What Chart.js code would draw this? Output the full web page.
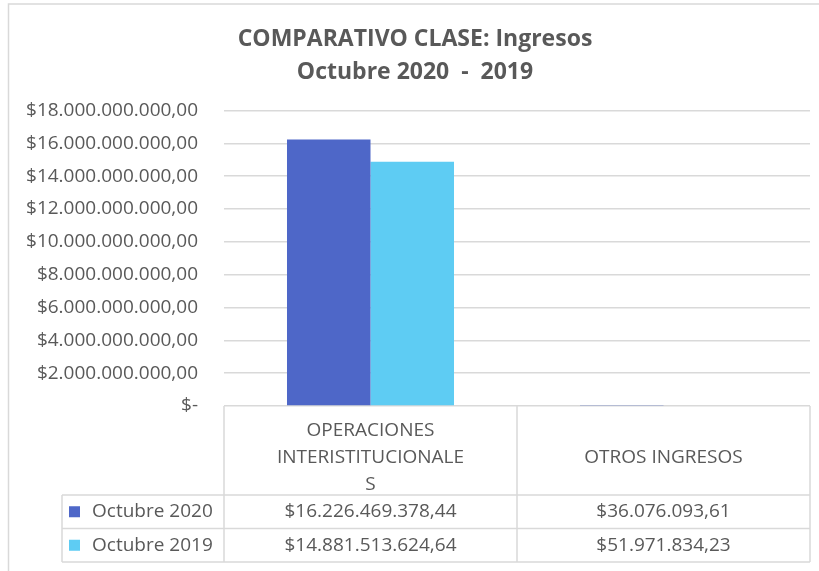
<!DOCTYPE html>
<html>
<head>
<meta charset="utf-8">
<script src="https://cdn.jsdelivr.net/npm/chart.js@4.4.0/dist/chart.umd.min.js"></script>
<style>
  body { margin: 0; background: #fff; }
</style>
</head>
<body>
<canvas id="chart" width="819" height="571"></canvas>
<script>
const titleLines = ['COMPARATIVO CLASE: Ingresos', 'Octubre 2020  -  2019'];
const categories = [['OPERACIONES', 'INTERISTITUCIONALE', 'S'], ['', 'OTROS INGRESOS', '']];
const seriesNames = ['Octubre 2020', 'Octubre 2019'];
const octubre2020 = [16226469378.44, 36076093.61];
const octubre2019 = [14881513624.64, 51971834.23];
const yMax = 18000000000;
const yStep = 2000000000;

const colors = ['#4E67C8', '#5ECCF3'];
const FONT = "'Open Sans', sans-serif";
const TEXT = '#595959';
const LINE = '#d9d9d9';

function money(v) {
  if (v === 0) return '$-';
  const parts = v.toFixed(2).split('.');
  return '$' + parts[0].replace(/\B(?=(\d{3})+(?!\d))/g, '.') + ',' + parts[1];
}

// draws the frame and the data table under the x axis
const dataTable = {
  id: 'dataTable',
  beforeDraw(chart) {
    const ctx = chart.ctx;
    ctx.save();
    ctx.fillStyle = '#fff';
    ctx.fillRect(0, 0, chart.width, chart.height);
    ctx.strokeStyle = LINE;
    ctx.lineWidth = 1.5;
    ctx.strokeRect(8.5, 4, chart.width + 20, chart.height + 20);
    ctx.restore();
  },
  afterDraw(chart) {
    const ctx = chart.ctx;
    const x = chart.scales.x;
    const top = chart.chartArea.bottom;
    const headBottom = x.bottom;
    const rowH = 33.5;
    const tableLeft = 62;
    const bottom = headBottom + rowH * seriesNames.length;
    const cols = [x.left];
    for (let i = 1; i < categories.length; i++) {
      cols.push((x.getPixelForValue(i - 1) + x.getPixelForValue(i)) / 2);
    }
    cols.push(x.right);

    ctx.save();
    ctx.strokeStyle = LINE;
    ctx.lineWidth = 1.5;
    ctx.beginPath();
    cols.forEach(c => { ctx.moveTo(c, top); ctx.lineTo(c, bottom); });
    ctx.moveTo(tableLeft, headBottom); ctx.lineTo(tableLeft, bottom);
    for (let r = 0; r <= seriesNames.length; r++) {
      const y = headBottom + r * rowH;
      ctx.moveTo(tableLeft, y); ctx.lineTo(x.right, y);
    }
    ctx.stroke();

    const rows = [octubre2020, octubre2019];
    ctx.font = '19px ' + FONT;
    ctx.textBaseline = 'middle';
    rows.forEach((vals, r) => {
      const cy = headBottom + r * rowH + rowH / 2;
      ctx.fillStyle = colors[r];
      ctx.fillRect(69, cy - 5.5, 11, 11);
      ctx.fillStyle = TEXT;
      ctx.textAlign = 'left';
      ctx.fillText(seriesNames[r], 92, cy);
      ctx.textAlign = 'center';
      vals.forEach((v, i) => ctx.fillText(money(v), x.getPixelForValue(i), cy));
    });
    ctx.restore();
  }
};

new Chart(document.getElementById('chart'), {
  type: 'bar',
  data: {
    labels: categories,
    datasets: [
      { label: seriesNames[0], data: octubre2020, backgroundColor: colors[0] },
      { label: seriesNames[1], data: octubre2019, backgroundColor: colors[1] }
    ]
  },
  options: {
    responsive: false,
    animation: false,
    categoryPercentage: 0.57,
    barPercentage: 1,
    layout: { padding: { left: 20, right: 9, top: 0, bottom: 76 } },
    plugins: {
      legend: { display: false },
      tooltip: { enabled: false },
      title: {
        display: true,
        text: titleLines,
        color: TEXT,
        font: { family: FONT, size: 23, weight: 'bold', lineHeight: 1.43 },
        padding: { top: 23.5, bottom: 21.2 }
      }
    },
    scales: {
      x: {
        grid: { display: false },
        border: { display: false },
        ticks: {
          color: TEXT,
          padding: 3,
          maxRotation: 0,
          autoSkip: false,
          font: { family: FONT, size: 19, lineHeight: 1.42 }
        },
        afterFit(scale) { scale.height = 89; }
      },
      y: {
        min: 0,
        max: yMax,
        grid: { color: LINE, lineWidth: 1.5, drawTicks: false },
        border: { display: false },
        ticks: {
          stepSize: yStep,
          color: TEXT,
          padding: 26,
          font: { family: FONT, size: 19 },
          callback: v => money(v)
        },
        afterFit(scale) { scale.width = 204; }
      }
    }
  },
  plugins: [dataTable]
});
</script>
</body>
</html>
